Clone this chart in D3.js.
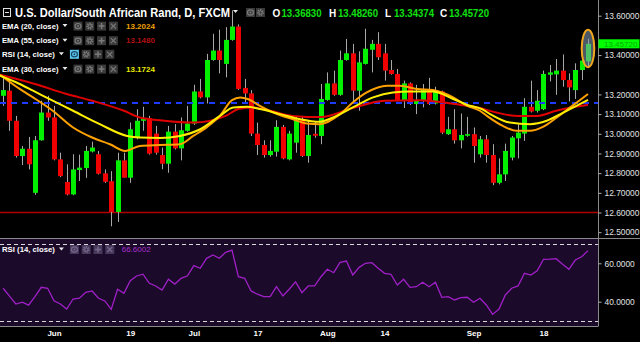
<!DOCTYPE html>
<html><head><meta charset="utf-8">
<script src="https://cdn.jsdelivr.net/npm/d3@7"></script>
<style>
html,body{margin:0;padding:0;background:#000;overflow:hidden}
svg{display:block}
text{font-family:"Liberation Sans",Arial,sans-serif}
</style></head><body>
<svg id="c" width="640" height="342"></svg>
<script>
// ---------------- DATA ----------------
const opens = [13.193,13.219,13.066,12.887,12.924,12.700,12.967,13.108,13.083,12.870,
 12.755,12.692,12.816,12.826,12.910,12.896,12.799,12.759,12.603,12.865,
 12.777,12.978,13.066,13.080,13.001,12.892,12.848,13.011,12.926,13.015,
 13.052,13.215,13.185,13.375,13.423,13.355,13.477,13.545,13.233,13.205,
 13.001,12.943,12.892,12.909,13.035,12.870,12.955,13.074,12.887,13.000,
 12.989,13.172,13.256,13.198,13.375,13.409,13.219,13.355,13.427,13.457,
 13.409,13.324,13.304,13.171,13.256,13.151,13.168,13.222,13.154,13.215,
 12.998,13.023,12.967,12.990,12.998,12.896,12.972,12.892,12.751,12.794,
 12.879,12.977,13.001,13.137,13.117,13.125,13.300,13.302,13.321,13.273,
 13.222,13.324,13.3683];
const highs = [13.287,13.279,13.091,12.938,12.984,12.989,13.168,13.193,13.142,12.904,
 12.845,12.896,12.894,12.938,12.960,12.913,12.819,12.810,12.904,12.904,
 13.057,13.125,13.137,13.091,13.040,12.930,13.040,13.049,13.083,13.142,
 13.249,13.279,13.406,13.508,13.529,13.542,13.627,13.556,13.279,13.222,
 13.057,12.967,12.967,13.069,13.045,13.015,13.091,13.091,13.069,13.060,
 13.253,13.312,13.321,13.423,13.482,13.457,13.419,13.534,13.477,13.516,
 13.457,13.375,13.329,13.270,13.261,13.249,13.253,13.284,13.239,13.219,
 13.086,13.125,13.103,13.086,13.032,12.989,12.994,12.947,12.875,12.950,
 12.989,13.049,13.181,13.270,13.222,13.321,13.350,13.380,13.403,13.307,
 13.358,13.397,13.4826];
const lows = [13.142,13.015,12.879,12.841,12.819,12.690,12.965,13.066,12.865,12.780,
 12.687,12.688,12.760,12.776,12.905,12.793,12.750,12.530,12.552,12.777,
 12.751,12.972,13.015,12.894,12.894,12.820,12.802,12.920,12.865,13.011,
 13.045,13.180,13.154,13.371,13.307,13.287,13.473,13.223,13.151,12.989,
 12.892,12.879,12.884,12.884,12.870,12.865,12.904,12.882,12.853,12.980,
 12.947,13.168,13.193,13.193,13.371,13.164,13.117,13.352,13.312,13.375,
 13.270,13.300,13.165,13.131,13.146,13.100,13.134,13.146,13.149,12.998,
 12.994,12.950,12.926,12.985,12.853,12.879,12.853,12.739,12.743,12.760,
 12.865,12.875,12.964,13.108,13.108,13.120,13.266,13.198,13.239,13.164,
 13.177,13.273,13.34374];
const closes = [13.222,13.066,12.887,12.924,12.845,12.967,13.108,13.083,12.870,12.785,
 12.692,12.819,12.828,12.913,12.930,12.797,12.756,12.603,12.865,12.777,
 13.023,13.066,13.078,12.899,12.904,12.848,13.011,12.926,13.018,13.052,
 13.215,13.185,13.375,13.423,13.375,13.477,13.545,13.228,13.205,13.001,
 12.943,12.892,12.913,13.035,12.875,13.001,13.069,12.887,12.994,12.990,
 13.177,13.256,13.198,13.375,13.409,13.219,13.363,13.432,13.457,13.389,
 13.321,13.304,13.171,13.256,13.151,13.168,13.222,13.151,13.219,13.006,
 13.023,12.967,12.994,12.998,12.938,12.972,12.892,12.751,12.794,12.913,
 12.981,13.006,13.137,13.113,13.168,13.304,13.312,13.321,13.273,13.236,
 13.324,13.372,13.4572];

const ema20Idx = [-0.5,2.6,4.7,7.8,11,14,16.8,19.2,21.5,24.7,27.8,29.9,32.1,34.1,36,37.3,38.5,40.4,43.1,45.6,47.8,49.8,53,55,57.2,60.4,62.4,65.1,67.6,70.8,73,75,76.1,78.6,80.8,82.9,84.9,87.1,89.2,92];
const ema20 = [13.300,13.228,13.185,13.117,13.032,12.981,12.947,12.913,12.938,12.943,12.947,12.989,13.035,13.091,13.171,13.185,13.177,13.142,13.100,13.074,13.052,13.049,13.100,13.159,13.210,13.244,13.244,13.228,13.222,13.185,13.142,13.117,13.091,13.040,13.015,13.015,13.035,13.083,13.134,13.202];
const ema30Idx = [-0.5,2.6,4.7,7.8,11,15.2,19.5,21.5,24.7,27.8,31,34.1,36.2,38.4,40.4,43.6,46.7,49.8,51.9,55,58.2,61.3,64,67.6,70.8,73,75.4,76.6,79.7,82.9,85.5,88.1,92];
const ema30 = [13.295,13.253,13.219,13.168,13.117,13.049,12.989,12.981,12.979,12.989,13.023,13.091,13.134,13.137,13.126,13.100,13.074,13.061,13.083,13.134,13.185,13.210,13.215,13.215,13.177,13.147,13.124,13.100,13.057,13.049,13.066,13.108,13.172];
const ema55Idx = [-0.5,5,10,14,19,21.5,25,30,35,37,39,42,45.5,50,55,60,65.5,71,75,76.5,81,84,87,90,92];
const ema55 = [13.300,13.253,13.202,13.168,13.117,13.083,13.068,13.057,13.091,13.126,13.134,13.117,13.091,13.085,13.131,13.168,13.171,13.151,13.131,13.117,13.091,13.091,13.117,13.137,13.148];

const rsi = [47.0,42.9,38.8,39.8,38.2,42.6,47.5,47.0,40.5,38.8,
 36.2,41.4,41.8,44.9,45.6,41.8,40.4,36.0,46.5,44.4,
 50.9,53.4,54.3,49.6,48.2,46.1,51.7,49.2,52.2,53.5,
 58.8,57.4,62.6,64.3,62.6,65.7,66.9,53.0,52.2,45.6,
 43.9,42.6,42.6,47.8,43.0,46.5,50.3,44.7,48.2,48.2,
 53.0,56.9,55.1,60.5,61.2,53.9,57.9,60.0,60.3,57.4,
 54.8,54.3,48.7,51.7,47.5,47.8,50.1,47.8,50.1,42.3,
 42.6,40.9,42.1,42.3,39.7,41.8,38.3,33.4,36.2,43.5,
 47.0,48.2,54.8,53.9,56.1,62.1,62.2,62.4,59.5,56.9,
 61.7,63.4,66.6];

const priceTicks = [13.6,13.4,13.2,13.1,13.0,12.9,12.8,12.7,12.6,12.5];
const rsiTicks = [60,40];
const rsiBands = [70,30];
const dateTickIdx = [8,20,30,40,51,60,74,85];
const dateTickLabels = ["Jun","19","Jul","17","Aug","14","Sep","18"];
const supportLevel = 12.60;
const resistanceLevel = 13.157;
const lastPrice = 13.4572;
const titleText = "U.S. Dollar/South African Rand, D, FXCM";
const ohlcKeys = ["O","H","L","C"];
const ohlcVals = ["13.36830","13.48260","13.34374","13.45720"];
const legendNames = ["EMA (20, close)","EMA (55, close)","RSI (14, close)","EMA (30, close)"];
const legendValues = ["13.2024","13.1480","","13.1724"];
const rsiName = "RSI (14, close)";
const rsiValue = "66.6002";

// ---------------- STYLE ----------------
const FONT = '"Liberation Sans",Arial,sans-serif';
const GREEN = "#00f000", RED = "#f00000", WICK = "#a8a8a8";
const C_EMA20 = "#ffa200", C_EMA30 = "#ffee00", C_EMA55 = "#e00000";
const legendValColors = ["#f0a000","#b01010","","#e8e800"];

const svg = d3.select("#c");
const plotR = 598;
const x = d3.scaleLinear().domain([0,92]).range([3.14,588]);
const y = d3.scaleLinear().domain([12.5,13.6]).range([232.2,15.7]);
const yr = d3.scaleLinear().domain([30,70]).range([320.9,244.1]);

svg.append("rect").attr("width",640).attr("height",342).attr("fill","#000");

const defs = svg.append("defs");
defs.append("clipPath").attr("id","pclip").append("rect").attr("x",0).attr("y",0).attr("width",plotR).attr("height",238);
defs.append("clipPath").attr("id","rclip").append("rect").attr("x",0).attr("y",239).attr("width",plotR).attr("height",87);

svg.append("rect").attr("x",0).attr("y",239).attr("width",plotR).attr("height",87).attr("fill","#1c0a2a");

const pg = svg.append("g").attr("clip-path","url(#pclip)");

pg.append("line").attr("x1",0).attr("x2",plotR).attr("y1",y(supportLevel)).attr("y2",y(supportLevel))
  .attr("stroke","#b00000").attr("stroke-width",1.5);

const idx = d3.range(opens.length);
pg.append("g").selectAll("line").data(idx).join("line")
  .attr("x1",i=>Math.round(x(i))+0.5).attr("x2",i=>Math.round(x(i))+0.5)
  .attr("y1",i=>y(highs[i])).attr("y2",i=>y(lows[i]))
  .attr("stroke",WICK).attr("stroke-width",1);
pg.append("g").selectAll("rect").data(idx).join("rect")
  .attr("x",i=>Math.round(x(i))-2)
  .attr("width",5)
  .attr("y",i=>y(Math.max(opens[i],closes[i])))
  .attr("height",i=>Math.max(1.5,Math.abs(y(opens[i])-y(closes[i]))))
  .attr("fill",i=>closes[i]>=opens[i]?GREEN:RED);

pg.append("line").attr("x1",0).attr("x2",plotR).attr("y1",y(resistanceLevel)).attr("y2",y(resistanceLevel))
  .attr("stroke","#1e3cff").attr("stroke-width",2).attr("stroke-dasharray","6,5");

function emaLine(ix, vals, color){
  const line = d3.line().x((d,k)=>x(ix[k])).y(d=>y(d)).curve(d3.curveMonotoneX);
  pg.append("path").attr("d",line(vals)).attr("fill","none").attr("stroke",color).attr("stroke-width",2);
}
emaLine(ema55Idx, ema55, C_EMA55);
emaLine(ema20Idx, ema20, C_EMA20);
emaLine(ema30Idx, ema30, C_EMA30);

const li = opens.length-1;
pg.append("ellipse").attr("cx",x(li)).attr("cy",y((highs[li]+lows[li])/2)-4).attr("rx",6.3).attr("ry",18.7)
  .attr("fill","#8aa0b8").attr("fill-opacity",0.55).attr("stroke","#f2a81e").attr("stroke-width",2);

const rg = svg.append("g").attr("clip-path","url(#rclip)");
rsiBands.forEach(b=>{
  rg.append("line").attr("x1",0).attr("x2",plotR).attr("y1",Math.round(yr(b))+0.5).attr("y2",Math.round(yr(b))+0.5)
    .attr("stroke","#d8d8d8").attr("stroke-width",1).attr("stroke-dasharray","4,3");
});
rg.append("path").attr("d",d3.line().x((d,i)=>x(i)).y(d=>yr(d))(rsi))
  .attr("fill","none").attr("stroke","#a020c8").attr("stroke-width",1.3);

svg.append("line").attr("x1",0).attr("x2",640).attr("y1",238.5).attr("y2",238.5).attr("stroke","#8a8a8a");
svg.append("line").attr("x1",0).attr("x2",plotR).attr("y1",326.5).attr("y2",326.5).attr("stroke","#8a8a8a");
svg.append("line").attr("x1",plotR+0.5).attr("x2",plotR+0.5).attr("y1",0).attr("y2",326.5).attr("stroke","#8a8a8a");

const pa = svg.append("g").attr("transform",`translate(${plotR+0.5},0)`)
  .call(d3.axisRight(y).tickValues(priceTicks).tickFormat(d3.format(".5f")).tickSize(3).tickPadding(3));
pa.select(".domain").remove();
pa.selectAll("line").attr("stroke","#b0b0b0");
pa.selectAll("text").attr("fill","#e0e0e0").style("font-size","8.4px").style("font-family",FONT);

const ty = y(lastPrice);
svg.append("rect").attr("x",plotR+0.5).attr("y",ty-4.5).attr("width",41).attr("height",9).attr("fill","#00ff00");
svg.append("text").attr("x",604).attr("y",ty+3).text(ohlcVals[3]).attr("fill","#00a800")
  .style("font-size","8px").style("font-family",FONT);

const ra = svg.append("g").attr("transform",`translate(${plotR+0.5},0)`)
  .call(d3.axisRight(yr).tickValues(rsiTicks).tickFormat(d3.format(".4f")).tickSize(3).tickPadding(3));
ra.select(".domain").remove();
ra.selectAll("line").attr("stroke","#b0b0b0");
ra.selectAll("text").attr("fill","#e0e0e0").style("font-size","8.4px").style("font-family",FONT);

const xa = svg.append("g").attr("transform","translate(0,326)")
  .call(d3.axisBottom(x).tickValues(dateTickIdx).tickFormat((d,i)=>dateTickLabels[i]).tickSize(0).tickPadding(4));
xa.select(".domain").remove();
xa.selectAll("text").attr("fill","#ffffff").style("font-size","8px").style("font-weight","bold").style("font-family",FONT);

// ---------------- LEGEND ----------------
function icon(g,bx,by,kind,bg,fg){
  g.append("rect").attr("x",bx).attr("y",by).attr("width",9).attr("height",9).attr("fill",bg);
  const cx=bx+4.5, cy=by+4.5;
  if(kind==="eye"){
    g.append("ellipse").attr("cx",cx).attr("cy",cy).attr("rx",3).attr("ry",2.6).attr("fill","none").attr("stroke",fg).attr("stroke-width",1.2);
    g.append("circle").attr("cx",cx).attr("cy",cy).attr("r",1).attr("fill",fg);
  } else if(kind==="gear"){
    g.append("circle").attr("cx",cx).attr("cy",cy).attr("r",2.6).attr("fill","none").attr("stroke",fg).attr("stroke-width",1.6).attr("stroke-dasharray","1.4,0.9");
    g.append("circle").attr("cx",cx).attr("cy",cy).attr("r",1.6).attr("fill","none").attr("stroke",fg).attr("stroke-width",1);
  } else if(kind==="plus"){
    g.append("path").attr("d",`M${cx-3},${cy}H${cx+3}M${cx},${cy-3}V${cy+3}`).attr("stroke",fg).attr("stroke-width",1.5);
  } else {
    g.append("path").attr("d",`M${cx-2.5},${cy-2.5}L${cx+2.5},${cy+2.5}M${cx+2.5},${cy-2.5}L${cx-2.5},${cy+2.5}`).attr("stroke",fg).attr("stroke-width",1.2);
  }
}
function arrow(g,ax,ay){
  g.append("path").attr("d",`M${ax},${ay}L${ax+5},${ay}L${ax+2.5},${ay+3}Z`).attr("fill","#e8e8e8");
}
function label(g,tx,b,str){
  const t = g.append("text").attr("x",tx).attr("y",b).text(str).attr("fill","#ffffff")
    .style("font-size","8px").style("font-family",FONT);
  const w = t.node().getComputedTextLength();
  t.style("font-weight","bold").attr("textLength",w).attr("lengthAdjust","spacingAndGlyphs");
  return w;
}
const lg = svg.append("g");
lg.append("rect").attr("x",3.5).attr("y",8.5).attr("width",7).attr("height",8).attr("fill","none").attr("stroke","#e0e0e0");
lg.append("line").attr("x1",5).attr("x2",9).attr("y1",12.5).attr("y2",12.5).attr("stroke","#e0e0e0");
lg.append("text").attr("x",15).attr("y",17.3).text(titleText).attr("fill","#ffffff")
  .attr("textLength",215).attr("lengthAdjust","spacingAndGlyphs")
  .style("font-size","12px").style("font-weight","bold").style("font-family",FONT);
arrow(lg,233,10);
icon(lg,246,8,"eye","#3a3a3a","#7a7a7a");
icon(lg,256,8,"gear","#3a3a3a","#7a7a7a");
const ohlcX = [272.5,329,385,440];
ohlcKeys.forEach((k,i)=>{
  lg.append("text").attr("x",ohlcX[i]).attr("y",17.3).text(k).attr("fill","#ffffff")
    .style("font-size","10px").style("font-weight","bold").style("font-family",FONT);
  lg.append("text").attr("x",ohlcX[i]+9).attr("y",17.3).text(ohlcVals[i]).attr("fill","#10e010")
    .attr("textLength",40).attr("lengthAdjust","spacingAndGlyphs")
    .style("font-size","10px").style("font-weight","bold").style("font-family",FONT);
});
const rowBase = [28.6,43.2,56.8,71.6];
legendNames.forEach((n,i)=>{
  const b = rowBase[i];
  const w = label(lg,2,b,n);
  arrow(lg,2+w+4,b-4.5);
  const bx0 = 2+w+15;
  const isRsi = n.startsWith("RSI");
  ["eye","gear","plus","x"].forEach((k,j)=>{
    const hi = isRsi && j===0;
    icon(lg,bx0+j*11.8,b-7,k,hi?"#5cc8ee":"#3a3a3a",hi?"#1c4a66":"#7a7a7a");
  });
  if(legendValues[i]){
    lg.append("text").attr("x",126).attr("y",b).text(legendValues[i]).attr("fill",legendValColors[i])
      .style("font-size","8px").style("font-weight","bold").style("font-family",FONT);
  }
});
{
  const b = 252;
  const w = label(lg,2,b,rsiName);
  arrow(lg,2+w+4,b-4.5);
  const bx0 = 2+w+15;
  ["eye","gear","plus","x"].forEach((k,j)=>icon(lg,bx0+j*11.8,b-7,k,"#45385a","#77688a"));
  lg.append("text").attr("x",121.7).attr("y",b).text(rsiValue).attr("fill","#a830d0")
    .style("font-size","8px").style("font-family",FONT);
}
</script>
</body></html>
